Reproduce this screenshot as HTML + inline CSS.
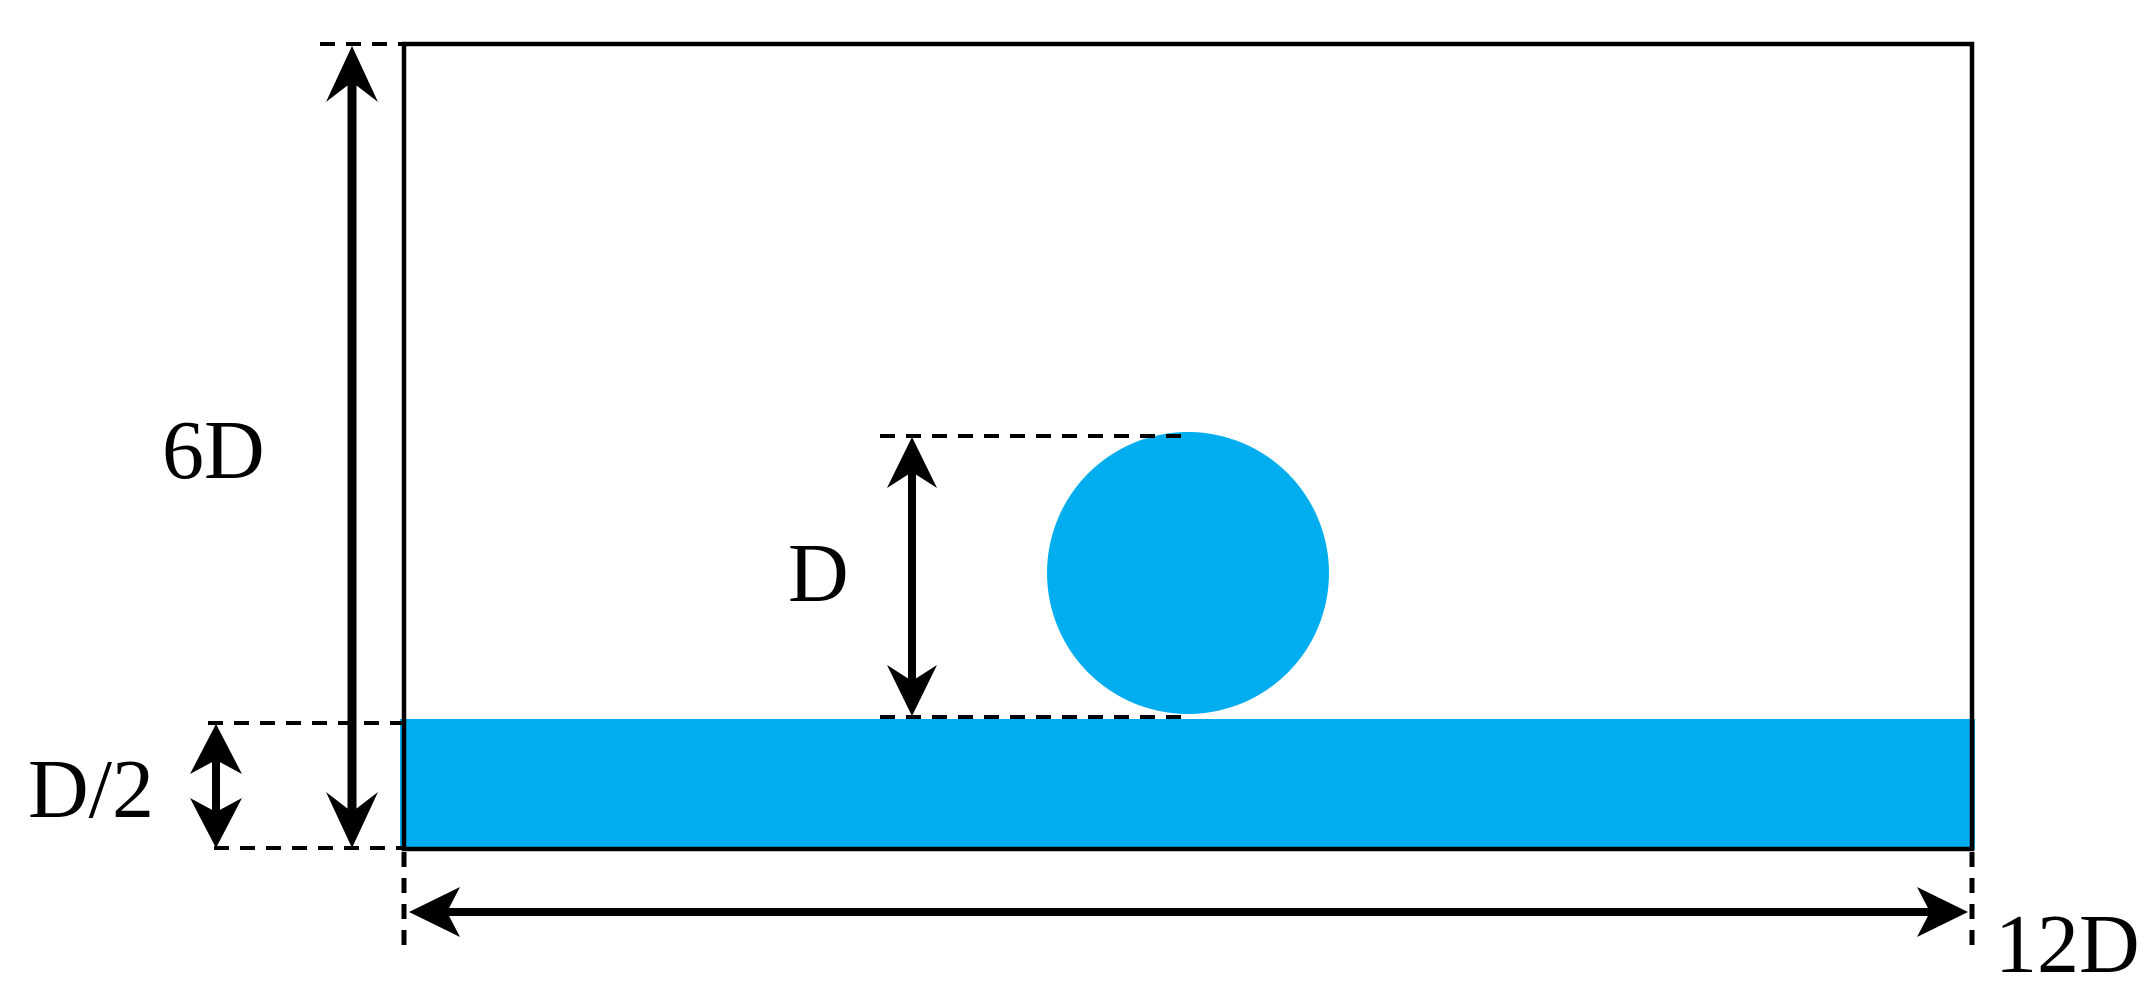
<!DOCTYPE html>
<html><head><meta charset="utf-8"><style>
html,body{margin:0;padding:0;background:#fff;}
svg{display:block;}
text{font-family:"Liberation Serif",serif;fill:#000;}
</style></head><body>
<svg width="2153" height="1008" viewBox="0 0 2153 1008" xmlns="http://www.w3.org/2000/svg">
<rect x="400" y="719" width="1575" height="131" fill="#00AEEF"/>
<circle cx="1188" cy="573" r="141" fill="#00AEEF"/>
<rect x="404" y="44" width="1568" height="805" fill="none" stroke="#000" stroke-width="4.5"/>
<g stroke="#000" stroke-width="4" stroke-dasharray="15,11" fill="none">
<line x1="320" y1="44" x2="404" y2="44"/>
<line x1="208" y1="723" x2="404" y2="723"/>
<line x1="214" y1="848" x2="404" y2="848"/>
<line x1="880" y1="436" x2="1188" y2="436"/>
<line x1="880" y1="717" x2="1188" y2="717"/>
<line x1="404" y1="852" x2="404" y2="945" stroke-width="5"/>
<line x1="1972" y1="852" x2="1972" y2="945" stroke-width="5"/>
</g>
<g stroke="#000" fill="none">
<line x1="352" y1="80" x2="352" y2="812" stroke-width="9"/>
<line x1="216" y1="760" x2="216" y2="812" stroke-width="8"/>
<line x1="912" y1="470" x2="912" y2="682" stroke-width="8"/>
<line x1="440" y1="912" x2="1938" y2="912" stroke-width="8"/>
</g>
<g fill="#000">
<polygon points="352,46 326,102 352,82 378,102"/>
<polygon points="352,848 326,792 352,812 378,792"/>
<polygon points="216,724 190,774 216,760 242,774"/>
<polygon points="216,848 190,798 216,812 242,798"/>
<polygon points="912,437 887,488 912,472 937,488"/>
<polygon points="912,716 887,665 912,681 937,665"/>
<polygon points="409,912 460,887 447,912 460,937"/>
<polygon points="1968,912 1917,887 1930,912 1917,937"/>
</g>
<text x="162" y="478" font-size="84">6D</text>
<text x="28" y="817" font-size="84">D/2</text>
<text x="788" y="601" font-size="84">D</text>
<text x="1995" y="972" font-size="84">12D</text>
</svg>
</body></html>
